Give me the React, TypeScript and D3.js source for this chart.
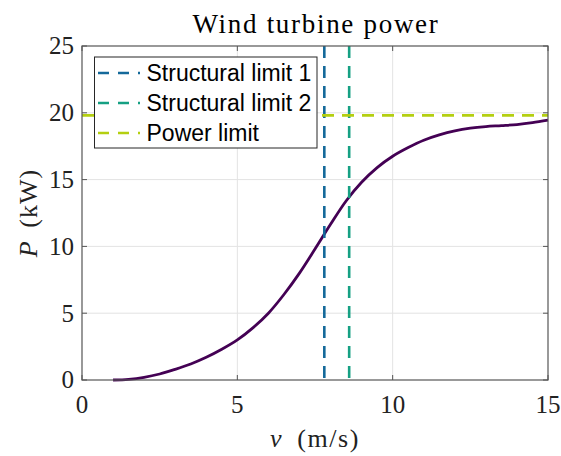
import React from 'react';
import * as d3 from 'd3';

const speeds = [1, 1.5, 2, 2.5, 3, 3.5, 4, 4.5, 5, 5.5, 6, 6.5, 7, 7.5, 8, 8.5, 9, 9.5, 10, 10.5, 11, 11.5, 12, 12.5, 13, 13.5, 14, 14.5, 15];
const power = [0, 0.05, 0.2, 0.45, 0.8, 1.2, 1.7, 2.3, 3.0, 3.9, 5.0, 6.4, 8.0, 9.8, 11.65, 13.4, 14.8, 15.9, 16.75, 17.4, 17.95, 18.35, 18.65, 18.85, 18.97, 19.04, 19.12, 19.26, 19.45];
const xTicks = [0, 5, 10, 15];
const yTicks = [0, 5, 10, 15, 20, 25];
const structuralLimit1 = 7.8;
const structuralLimit2 = 8.6;
const powerLimit = 19.8;
const legendLabels = ['Structural limit 1', 'Structural limit 2', 'Power limit'];
const limitColors = ['#14699a', '#16a083', '#b4cf10'];
const curveColor = '#440154';

const W = 561, H = 456;
const L = 82, R = 548, T = 46, B = 380;
const serif = '"Liberation Serif", "DejaVu Serif", serif';
const sans = '"Liberation Sans", Arial, sans-serif';

export default function App() {
  const x = d3.scaleLinear().domain([0, 15]).range([L, R]);
  const y = d3.scaleLinear().domain([0, 25]).range([B, T]);
  const pts: [number, number][] = speeds.map((v, i) => [v, power[i]]);
  const line = d3.line<[number, number]>().x(d => x(d[0])).y(d => y(d[1])).curve(d3.curveCatmullRom.alpha(0.5));
  const dash = '12,8';
  const rows = [73, 103, 133];
  return (
    <svg width={W} height={H} style={{ position: 'absolute', left: 0, top: 0, background: '#fff' }}>
      <rect x={0} y={0} width={W} height={H} fill="#fff" />
      {xTicks.slice(1, -1).map(t => (
        <line key={'gx' + t} x1={x(t)} x2={x(t)} y1={T} y2={B} stroke="#e3e3e3" strokeWidth={1} />
      ))}
      {yTicks.slice(1, -1).map(t => (
        <line key={'gy' + t} x1={L} x2={R} y1={y(t)} y2={y(t)} stroke="#e3e3e3" strokeWidth={1} />
      ))}
      {xTicks.map(t => (
        <g key={'tx' + t}>
          <line x1={x(t)} x2={x(t)} y1={B} y2={B - 5} stroke="#555" />
          <line x1={x(t)} x2={x(t)} y1={T} y2={T + 5} stroke="#555" />
        </g>
      ))}
      {yTicks.map(t => (
        <g key={'ty' + t}>
          <line x1={L} x2={L + 5} y1={y(t)} y2={y(t)} stroke="#555" />
          <line x1={R} x2={R - 5} y1={y(t)} y2={y(t)} stroke="#555" />
        </g>
      ))}
      <path d={line(pts) || ''} fill="none" stroke={curveColor} strokeWidth={2.8} />
      <line x1={x(structuralLimit1)} x2={x(structuralLimit1)} y1={T} y2={B} stroke={limitColors[0]} strokeWidth={2.6} strokeDasharray={dash} />
      <line x1={x(structuralLimit2)} x2={x(structuralLimit2)} y1={T} y2={B} stroke={limitColors[1]} strokeWidth={2.6} strokeDasharray={dash} />
      <line x1={L} x2={R} y1={y(powerLimit)} y2={y(powerLimit)} stroke={limitColors[2]} strokeWidth={2.8} strokeDasharray={dash} />
      <rect x={L} y={T} width={R - L} height={B - T} fill="none" stroke="#555" strokeWidth={1.2} />
      {xTicks.map(t => (
        <text key={'lx' + t} x={x(t)} y={413} textAnchor="middle" fontFamily={serif} fontSize={25} fill="#222">{t}</text>
      ))}
      {yTicks.map(t => (
        <text key={'ly' + t} x={74} y={y(t) + 8.4} textAnchor="end" fontFamily={serif} fontSize={25} fill="#222">{t}</text>
      ))}
      <text x={(L + R) / 2 + 1} y={33} textAnchor="middle" fontFamily={serif} fontSize={27} letterSpacing={1.7} fill="#000">Wind turbine power</text>
      <text x={(L + R) / 2} y={447} textAnchor="middle" fontFamily={serif} fontSize={26} letterSpacing={1.6} wordSpacing={6} fill="#222">
        <tspan fontStyle="italic">v</tspan> (m/s)
      </text>
      <text transform={`translate(37, ${(T + B) / 2}) rotate(-90)`} textAnchor="middle" fontFamily={serif} fontSize={26} letterSpacing={1} wordSpacing={5} fill="#222">
        <tspan fontStyle="italic">P</tspan> (kW)
      </text>
      <rect x={94.5} y={57} width={222.5} height={91} fill="#fff" stroke="#262626" strokeWidth={1} />
      {legendLabels.map((lab, i) => (
        <g key={lab}>
          <line x1={98} x2={140} y1={rows[i]} y2={rows[i]} stroke={limitColors[i]} strokeWidth={2.6} strokeDasharray="11,9" />
          <text x={146.5} y={rows[i] + 8.3} fontFamily={sans} fontSize={23} fill="#000">{lab}</text>
        </g>
      ))}
    </svg>
  );
}
